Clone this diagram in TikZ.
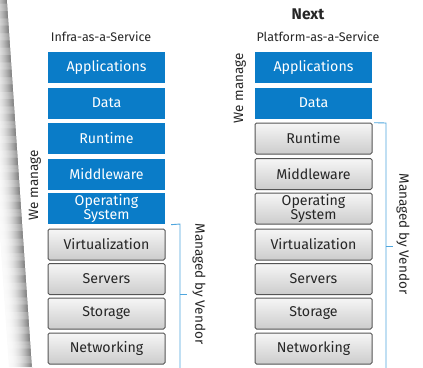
\documentclass[tikz,border=0pt]{standalone}
\usepackage{fontspec}
\setmainfont{Fira Sans}
\usetikzlibrary{positioning}
\definecolor{svcblue}{HTML}{0A7CC8}
\definecolor{brkblue}{HTML}{4FA6DE}
\definecolor{boxedge}{HTML}{555555}
\definecolor{txtdark}{HTML}{262626}
\tikzset{
  x=1pt, y=-1pt,
  layer/.style={minimum width=117pt, minimum height=31pt, inner sep=0pt,
    align=center, font=\fontsize{14.2}{14}\selectfont},
  ours/.style={layer, fill=svcblue, text=white},
  theirs/.style={layer, draw=boxedge, line width=1pt, rounded corners=1.5pt,
    top color=gray!7, bottom color=gray!40, text=txtdark},
  heading/.style={font=\fontsize{12.5}{14}\selectfont, text=txtdark},
  sidelabel/.style={font=\fontsize{13.5}{15}\selectfont, text=txtdark},
  bracket/.style={draw=brkblue, line width=0.9pt}
}
\begin{document}
\begin{tikzpicture}
\useasboundingbox (0,0) rectangle (423,367);
\fill[white] (0,0) rectangle (423,367);

% page-edge shadow along the left side
\foreach \i in {0,...,23}{
  \pgfmathsetmacro{\shade}{2+\i*\i*0.095}
  \fill[black!\shade] (-16+\i,0) -- (-15+\i,0) -- (10+\i,367) -- (9+\i,367) -- cycle;
}
\fill[white] (7,0) -- (60,0) -- (60,367) -- (32,367) -- cycle;

% ---- Infra-as-a-Service stack
\node[heading] (hIaaS) at (101,37) {Infra-as-a-Service};
\node[ours]   (iApp)  at (106.5,67.5)  {Applications};
\node[ours]   (iData) at (106.5,103)   {Data};
\node[ours]   (iRun)  at (106.5,138.5) {Runtime};
\node[ours]   (iMid)  at (106.5,174)   {Middleware};
\node[ours]   (iOS)   at (106.5,208.5) {Operating\\System};
\node[theirs] (iVirt) at (106.5,244.5) {Virtualization};
\node[theirs] (iSrv)  at (106.5,279)   {Servers};
\node[theirs] (iSto)  at (106.5,313.5) {Storage};
\node[theirs] (iNet)  at (106.5,348.5) {Networking};

\node[sidelabel, rotate=90] (iWe) at (35,185) {We manage};

\coordinate (iBt) at (180,224);
\coordinate (iBb) at (180,370);
\coordinate (iBm) at (180,294);
\draw[bracket] (iOS.south east) ++(6,0.5) -- (iBt) -- (iBb);
\draw[bracket] (iBm) -- ++(7,0);
\node[sidelabel, rotate=-90] (iVend) at (199,284) {Managed by Vendor};

% ---- Platform-as-a-Service stack
\node[font=\bfseries\fontsize{15.5}{17}\selectfont, text=txtdark] (next) at (308,14) {Next};
\node[heading] (hPaaS) at (318,37) {Platform-as-a-Service};
\node[ours]   (pApp)  at (313.5,67.5)  {Applications};
\node[ours]   (pData) at (313.5,103)   {Data};
\node[theirs] (pRun)  at (313.5,138.5) {Runtime};
\node[theirs] (pMid)  at (313.5,174)   {Middleware};
\node[theirs] (pOS)   at (313.5,208.5) {Operating\\System};
\node[theirs] (pVirt) at (313.5,244.5) {Virtualization};
\node[theirs] (pSrv)  at (313.5,279)   {Servers};
\node[theirs] (pSto)  at (313.5,313.5) {Storage};
\node[theirs] (pNet)  at (313.5,348.5) {Networking};

\node[sidelabel, rotate=90] (pWe) at (240,88) {We manage};

\coordinate (pBt) at (386,123);
\coordinate (pBb) at (386,370);
\coordinate (pBm) at (386,246);
\draw[bracket] (pData.south east) ++(2,4) -- (pBt) -- (pBb);
\draw[bracket] (pBm) -- ++(7,0);
\node[sidelabel, rotate=-90] (pVend) at (403,234) {Managed by Vendor};
\end{tikzpicture}
\end{document}
